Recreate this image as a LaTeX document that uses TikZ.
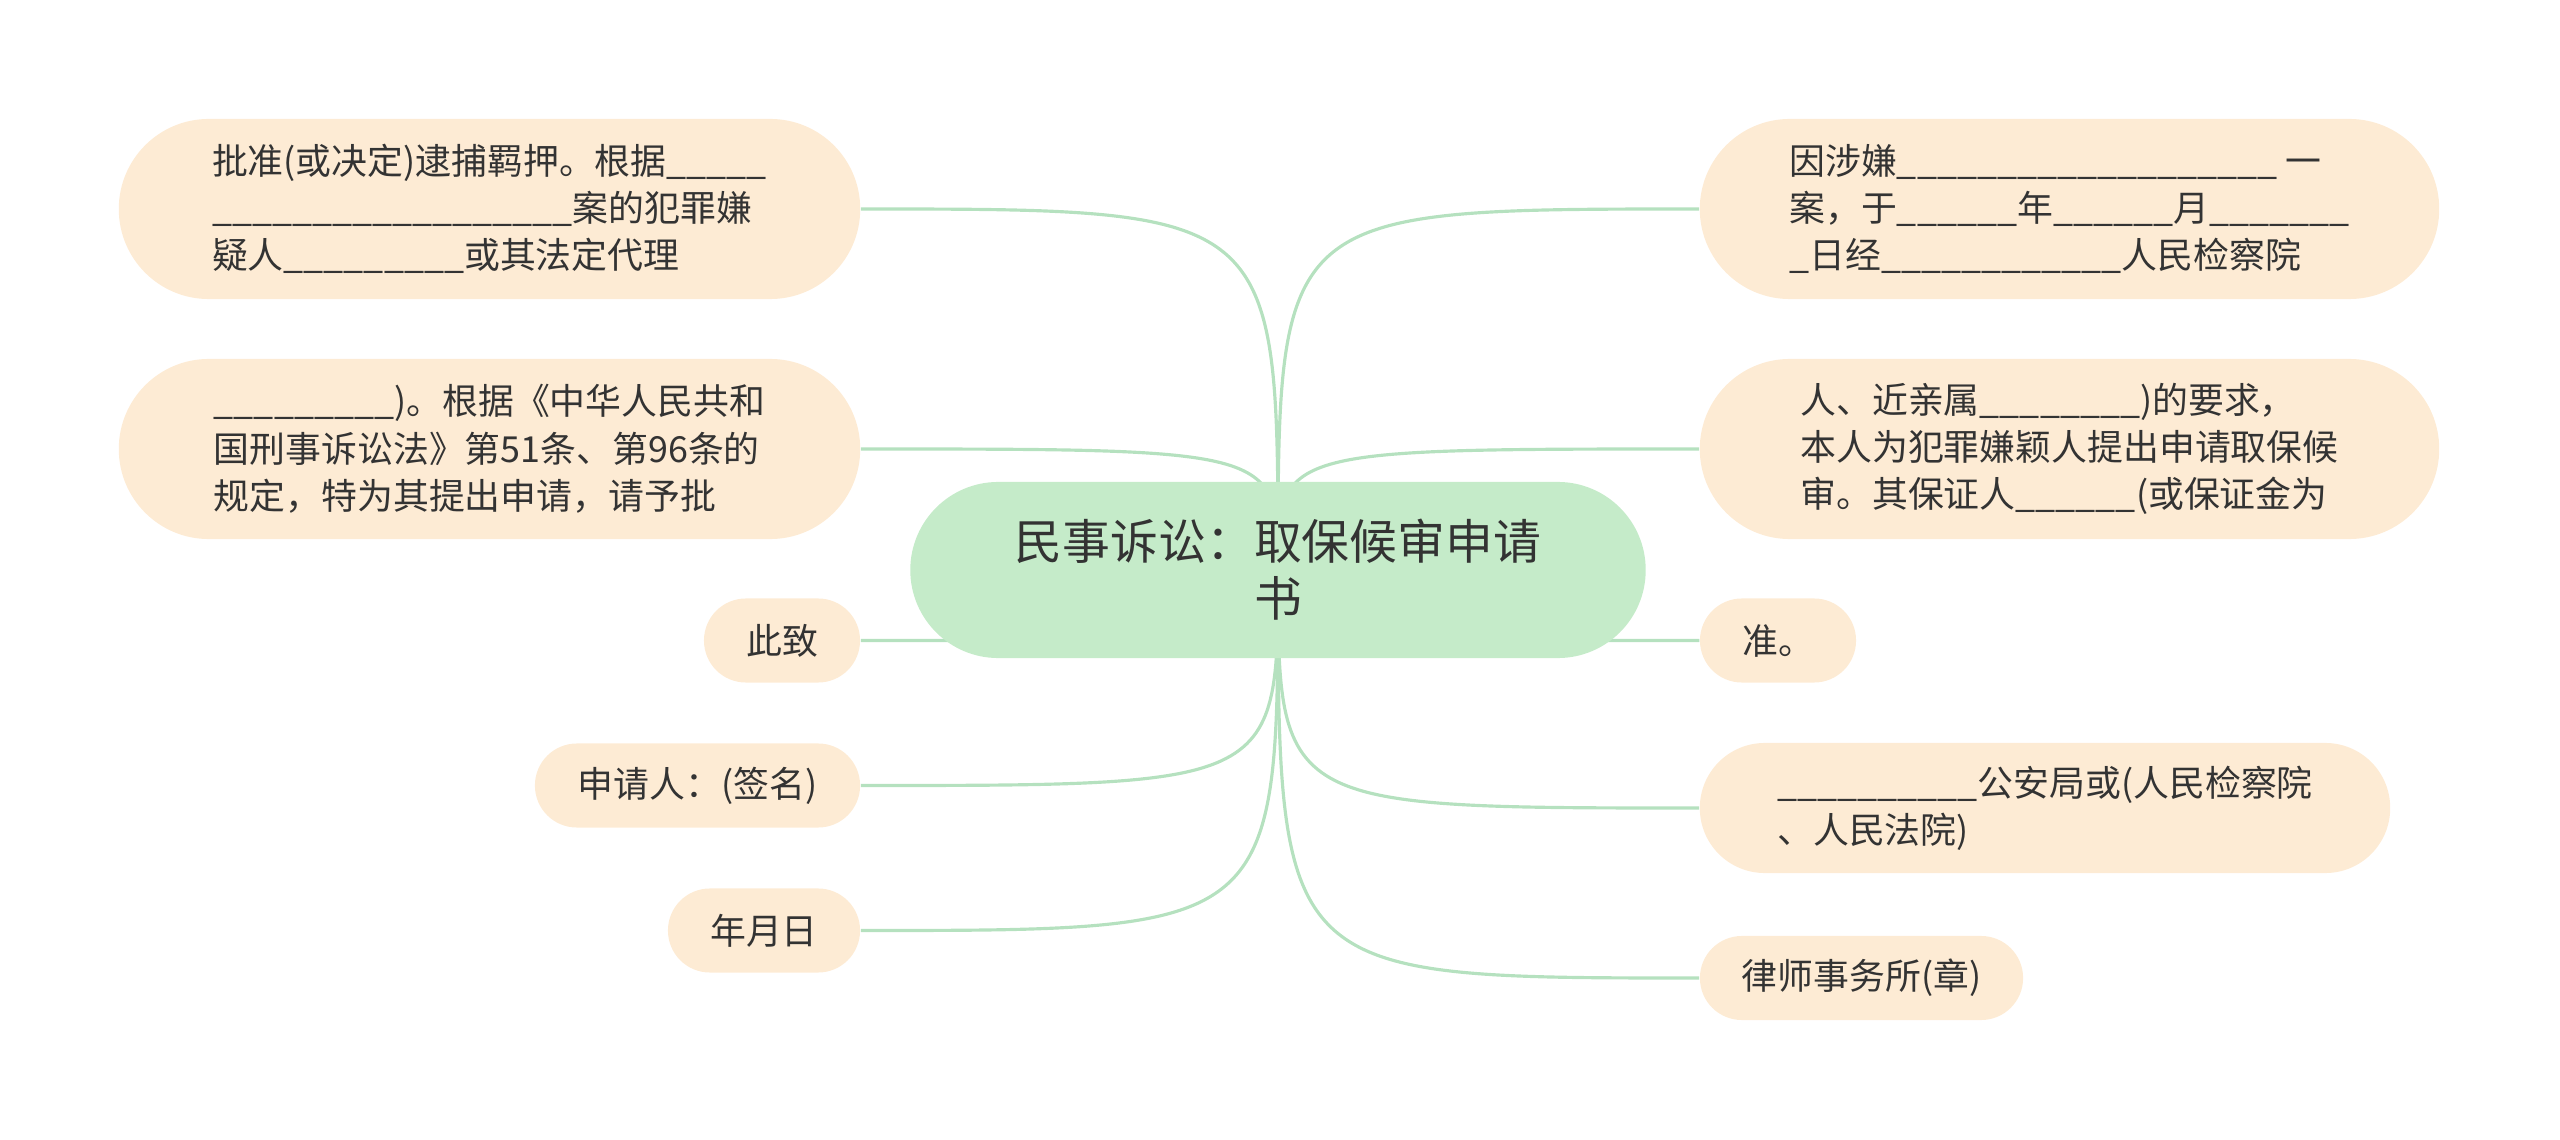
\documentclass[tikz,border=0pt]{standalone}
\usepackage{fontspec}
\setmainfont{Noto Sans CJK SC}
\usepackage{xcolor}
\usepackage{tikz}
\usetikzlibrary{backgrounds,positioning}
\definecolor{colorRoot}{HTML}{C5EBC9}
\definecolor{colorLeaf}{HTML}{FDEBD4}
\definecolor{colorLink}{HTML}{B5E1BF}
\definecolor{colorText}{HTML}{333333}
\tikzset{
   topic/.style={rectangle, rounded corners=0.879cm, fill=colorRoot, text=colorText, align=center,
      minimum width=7.35cm, minimum height=1.76cm, inner sep=0pt, font=\fontsize{13.6}{16.2}\selectfont},
   leaf/.style={rectangle, fill=colorLeaf, text=colorText, align=left, inner sep=0pt,
      font=\fontsize{10.2}{13.45}\selectfont},
   bigleaf/.style={leaf, minimum width=7.41cm, minimum height=1.8cm, rounded corners=0.899cm},
   smallleaf/.style={leaf, minimum height=0.84cm, rounded corners=0.419cm},
   link/.style={draw=colorLink, line width=0.9pt},
}
\begin{document}
\catcode`\_=12
\begin{tikzpicture}[x=0.01cm, y=-0.01cm]
  \useasboundingbox (0,0) rectangle (2560,1140);

  \node [topic] (root) at (1278,570) {民事诉讼：取保候审申请\\书};

  % left side
  \node [bigleaf] (l1) at (489.5,209) {批准(或决定)逮捕羁押。根据_____\\__________________案的犯罪嫌\\疑人_________或其法定代理};
  \node [bigleaf] (l2) at (489.5,449) {_________)。根据《中华人民共和\\国刑事诉讼法》第51条、第96条的\\规定，特为其提出申请，请予批};
  \node [smallleaf, minimum width=1.56cm] (l3) at (782,640.5) {此致};
  \node [smallleaf, minimum width=3.25cm] (l4) at (697.5,785.5) {申请人：(签名)};
  \node [smallleaf, minimum width=1.92cm] (l5) at (764,930.5) {年月日};

  % right side
  \node [bigleaf, minimum width=7.39cm] (r1) at (2069.5,209) {因涉嫌___________________ 一\\案，于______年______月_______\\_日经____________人民检察院};
  \node [bigleaf, minimum width=7.39cm] (r2) at (2069.5,449) {人、近亲属________)的要求，\\本人为犯罪嫌颖人提出申请取保候\\审。其保证人______(或保证金为};
  \node [smallleaf, minimum width=1.56cm] (r3) at (1778,640.5) {准。};
  \node [leaf, minimum width=6.9cm, minimum height=1.3cm, rounded corners=0.649cm] (r4) at (2045,808) {__________公安局或(人民检察院\\、人民法院)};
  \node [smallleaf, minimum width=3.23cm] (r5) at (1861.5,978) {律师事务所(章)};

  \begin{scope}[on background layer]
   \foreach \n in {l1,l2,l3,l4,l5}
     \draw [link] (root.center) .. controls (root.center |- \n.east) .. (\n.east);
   \foreach \n in {r1,r2,r3,r4,r5}
     \draw [link] (root.center) .. controls (root.center |- \n.west) .. (\n.west);
  \end{scope}
\end{tikzpicture}
\end{document}
